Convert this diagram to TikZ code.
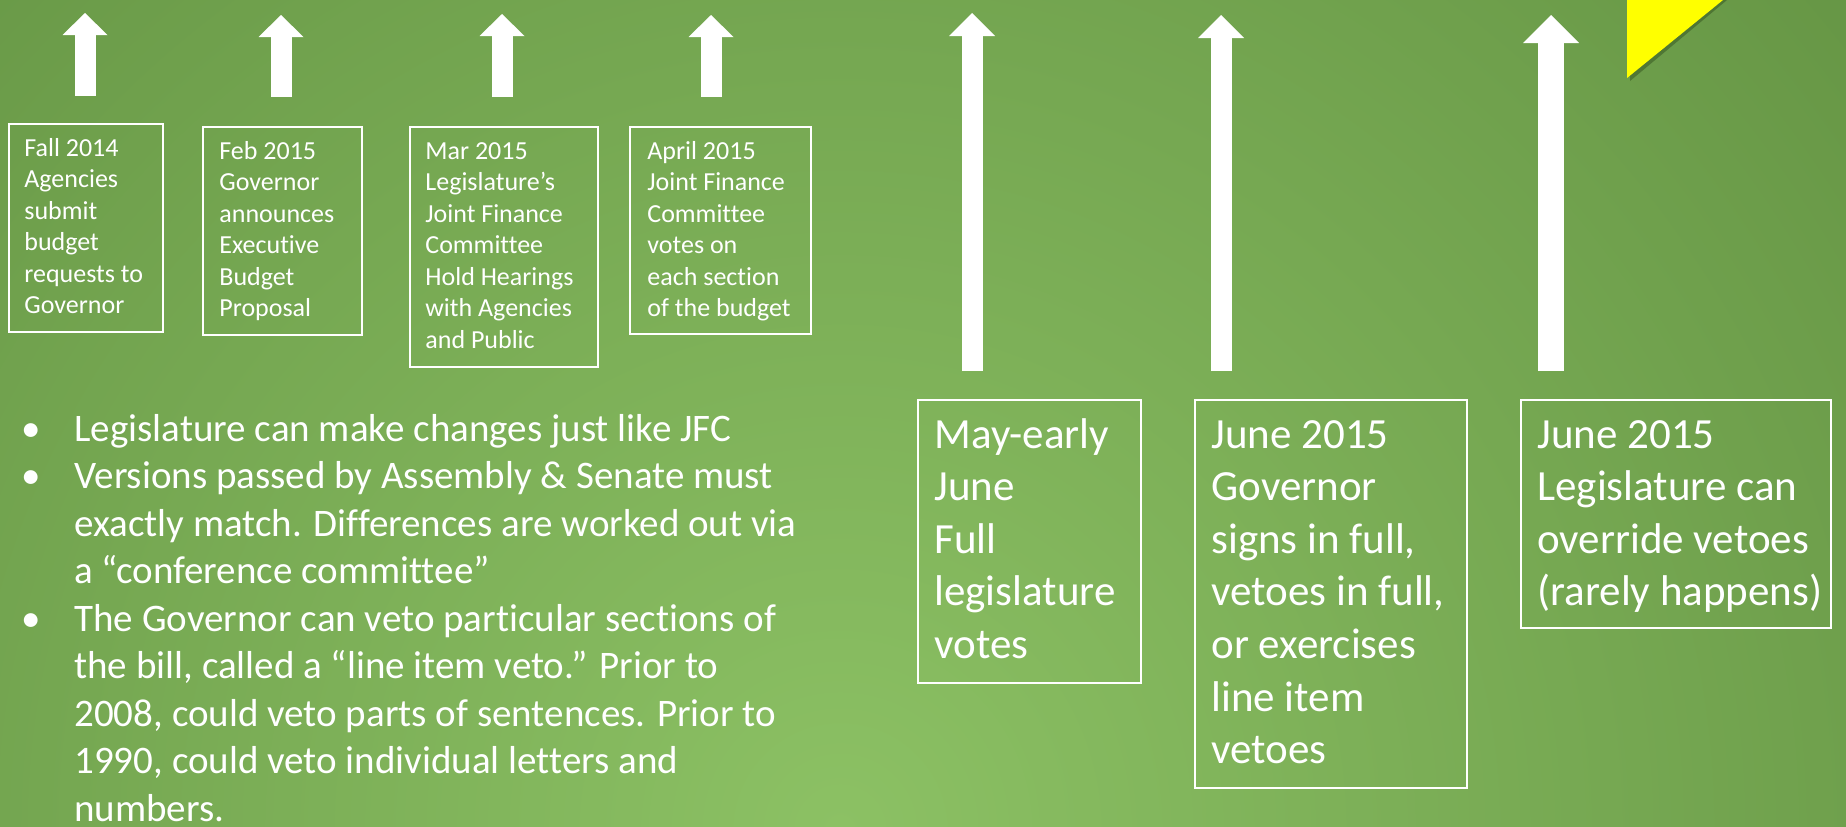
\documentclass[tikz,border=0pt]{standalone}
\usepackage{fontspec}
\setmainfont{Carlito}[Ligatures=NoCommon]
\usetikzlibrary{arrows.meta}
\definecolor{bgLight}{RGB}{140,193,100}
\definecolor{bgDark}{RGB}{74,118,46}
\definecolor{flagYellow}{RGB}{255,255,0}
\begin{document}
\begin{tikzpicture}[x=0.5pt, y=-0.5pt,
  tbox/.style={draw=white, line width=0.9pt, anchor=north west, inner sep=0pt},
  small/.style={text=white, anchor=base west, align=left, inner sep=0pt, font=\fontsize{13pt}{15.75pt}\selectfont},
  big/.style={text=white, anchor=base west, align=left, inner sep=0pt, font=\fontsize{21.5pt}{26.3pt}\selectfont},
  bullets/.style={text=white, anchor=base west, align=left, inner sep=0pt, font=\fontsize{19.5pt}{23.75pt}\selectfont},
  uparrow/.style={white, line width=10.5pt, -{Triangle[width=22.5pt, length=11pt, line width=0pt]}},
  longarrow/.style={white, line width=10.5pt, -{Triangle[width=23pt, length=11.5pt, line width=0pt]}},
  widearrow/.style={white, line width=13pt, -{Triangle[width=28pt, length=14pt, line width=0pt]}}]
\useasboundingbox (0,0) rectangle (1846,826);
% Background
\begin{scope}
\clip (0,0) rectangle (1846,826);
\shade[inner color=bgLight, outer color=bgDark] (-1460,-1470) rectangle (3140,3130);
\end{scope}
% Flag corner
\fill[bgDark!70!black, opacity=0.5] (1630,0) -- (1727,0) -- (1630,81) -- cycle;
\fill[flagYellow] (1627,0) -- (1723,0) -- (1627,78) -- cycle;
% Arrow ends
\coordinate (fallfoot) at (85,96);   \coordinate (falltip) at (85,13);
\coordinate (febfoot) at (281,97);   \coordinate (febtip) at (281,15);
\coordinate (marfoot) at (502,97);   \coordinate (martip) at (502,14);
\coordinate (aprfoot) at (711,97);   \coordinate (aprtip) at (711,15);
\coordinate (mayfoot) at (972,371);  \coordinate (maytip) at (972,13);
\coordinate (junefoot) at (1221,371); \coordinate (junetip) at (1221,15);
\coordinate (overfoot) at (1551,371); \coordinate (overtip) at (1551,15);
% Arrows
\draw[uparrow] (fallfoot) -- (falltip);
\draw[uparrow] (febfoot) -- (febtip);
\draw[uparrow] (marfoot) -- (martip);
\draw[uparrow] (aprfoot) -- (aprtip);
\draw[longarrow] (mayfoot) -- (maytip);
\draw[longarrow] (junefoot) -- (junetip);
\draw[widearrow] (overfoot) -- (overtip);
% Boxes
\node[tbox, minimum width=77pt, minimum height=104pt] (fallbox) at (8,123) {};
\node[tbox, minimum width=79.5pt, minimum height=104pt] (febbox) at (202,126) {};
\node[tbox, minimum width=94pt, minimum height=120pt] (marbox) at (409,126) {};
\node[tbox, minimum width=90.5pt, minimum height=103.5pt] (aprbox) at (629,126) {};
\node[tbox, minimum width=111.5pt, minimum height=141.5pt] (maybox) at (917,399) {};
\node[tbox, minimum width=136pt, minimum height=194pt] (junebox) at (1194,399) {};
\node[tbox, minimum width=155pt, minimum height=114pt] (overbox) at (1520,399) {};
% Labels (placed at the baseline of their last line)
\node[small] (falltext) at (24,313.5) {Fall 2014\\Agencies\\submit\\budget\\requests to\\Governor};
\node[small] (febtext) at (219,316.5) {Feb 2015\\Governor\\announces\\Executive\\Budget\\Proposal};
\node[small] (martext) at (425,348) {Mar 2015\\Legislature’s\\Joint Finance\\Committee\\Hold Hearings\\with Agencies\\and Public};
\node[small] (aprtext) at (647,316.5) {April 2015\\Joint Finance\\Committee\\votes on\\each section\\of the budget};
\node[big] (maytext) at (934,658.4) {May-early\\June\\Full\\legislature\\votes};
\node[big] (junetext) at (1211,763.6) {June 2015\\Governor\\signs in full,\\vetoes in full,\\or exercises\\line item\\vetoes};
\node[big] (overtext) at (1537,605.8) {June 2015\\Legislature can\\override vetoes\\(rarely happens)};
% Notes
\node[bullets] (notes) at (74,821) {\llap{•\hspace{16.6pt}}Legislature can make changes just like JFC\\
\llap{•\hspace{16.6pt}}Versions passed by Assembly \& Senate must\\
exactly match. Differences are worked out via\\
a “conference committee”\\
\llap{•\hspace{16.6pt}}The Governor can veto particular sections of\\
the bill, called a “line item veto.” Prior to\\
2008, could veto parts of sentences. Prior to\\
1990, could veto individual letters and\\
numbers.};
\end{tikzpicture}
\end{document}
